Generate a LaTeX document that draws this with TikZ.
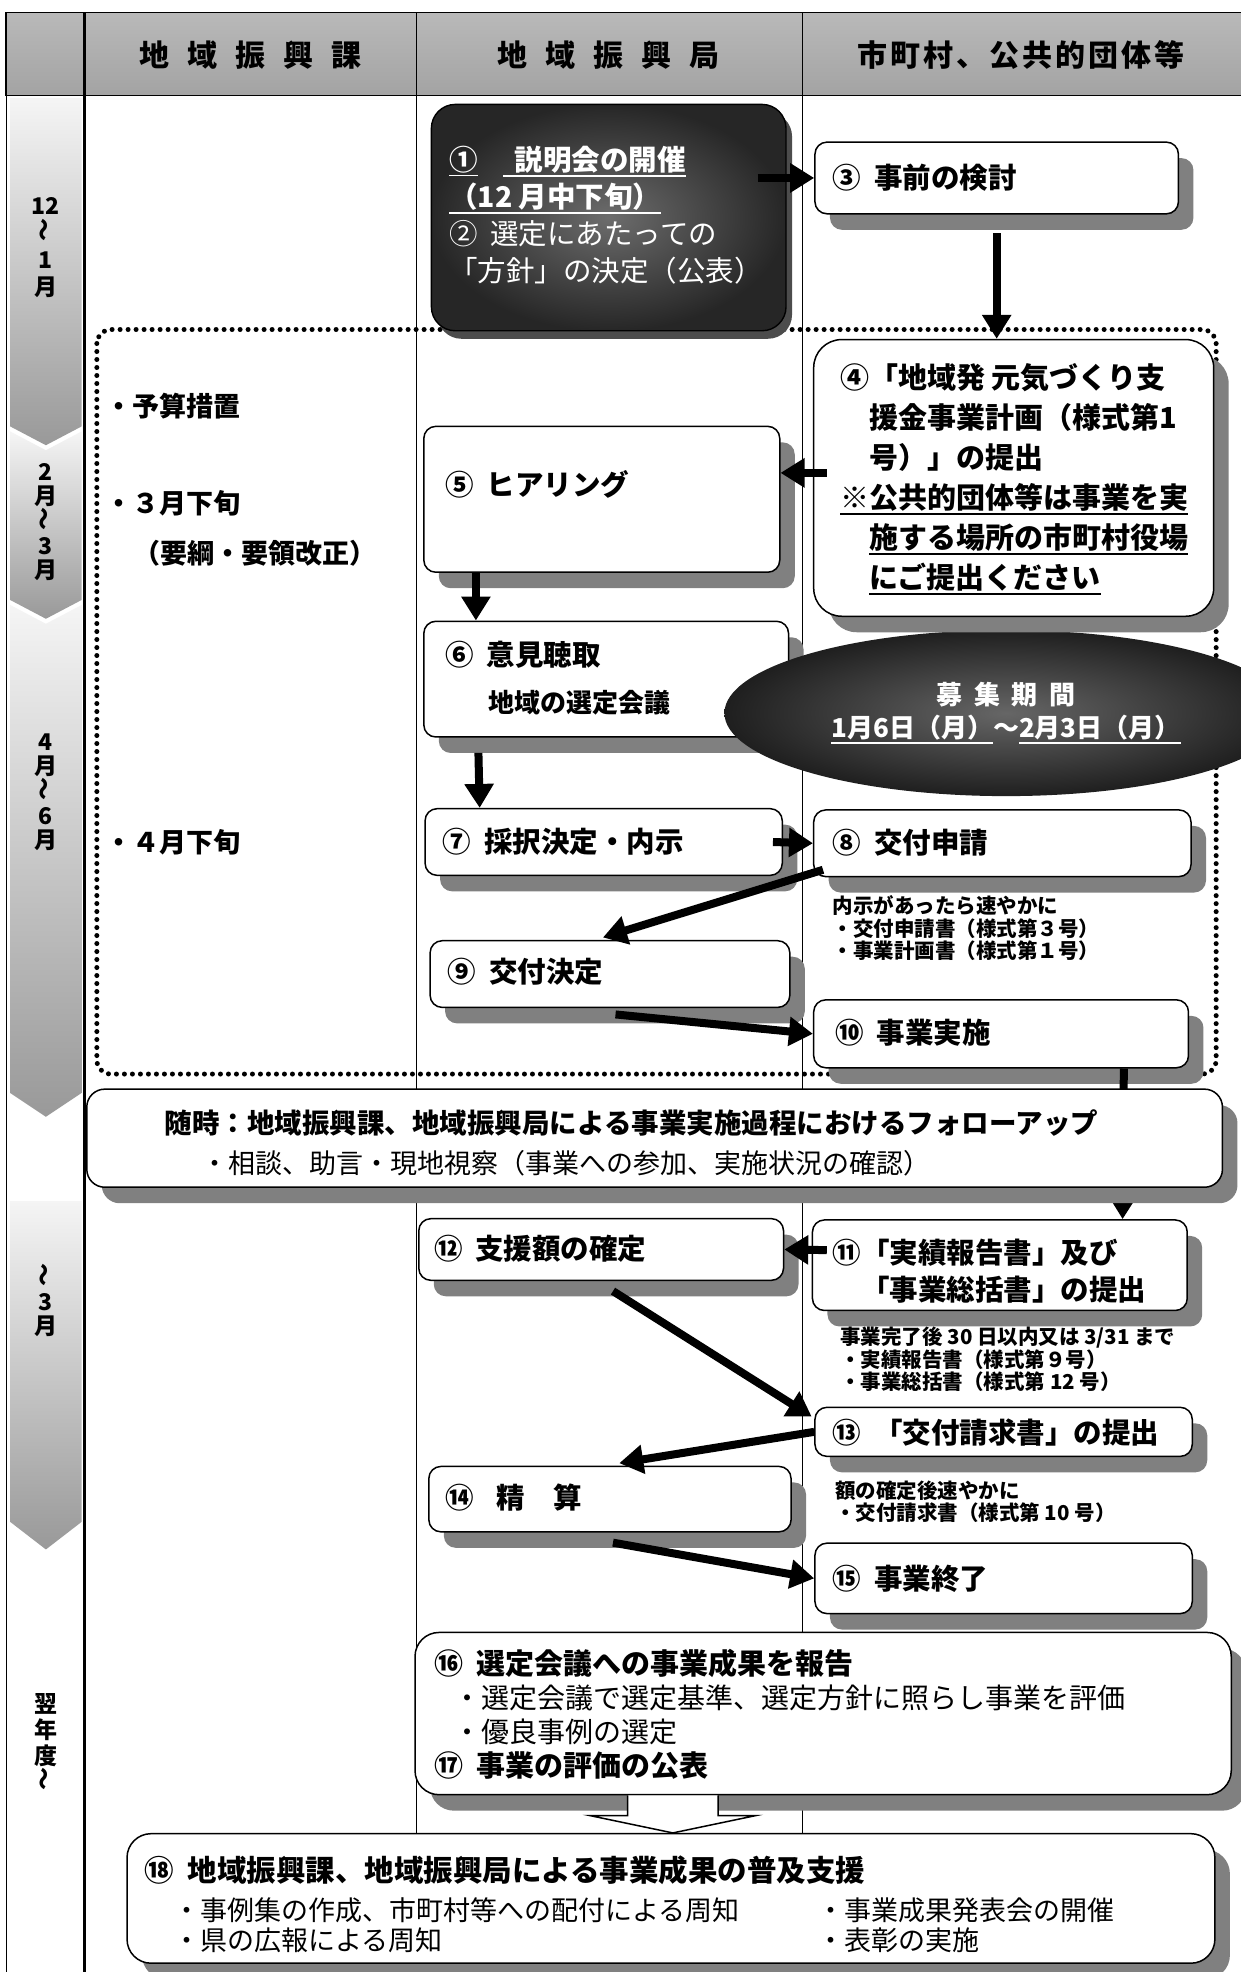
\documentclass[tikz,border=0pt]{standalone}
\usepackage{fontspec}
\usepackage{graphicx}
\setmainfont{Noto Sans CJK JP}
\usetikzlibrary{arrows.meta,positioning,shadows,calc,fit}

\newcommand{\bxfont}{\fontsize{28.5}{37}\selectfont\bfseries}
\newcommand{\fourfont}{\fontsize{29}{40}\selectfont\bfseries}
\newcommand{\subfont}{\fontsize{26}{30}\selectfont\bfseries}
\newcommand{\smfont}{\fontsize{20.5}{22.5}\selectfont\bfseries}
\newcommand{\hdfont}{\fontsize{30}{34}\selectfont\bfseries}
\newcommand{\tlfont}{\fontsize{23}{24}\selectfont\bfseries}
\newcommand{\rgfont}{\fontsize{27}{30}\selectfont}
\newcommand{\prdfont}{\fontsize{26}{30}\selectfont\bfseries}
\newcommand{\lcfont}{\fontsize{27}{30}\selectfont\bfseries}
\newcommand{\numgap}{\hspace{0.45em}}
\newcommand{\vwave}{\rotatebox{90}{〜}}
\newcommand{\undl}[1]{\leavevmode\vtop{\hbox{#1}\kern1.5pt\hrule height 1.8pt}}

\tikzset{
  colline/.style={line width=1pt},
  box/.style={draw, line width=1.5pt, fill=white, rounded corners=12pt, inner sep=0pt,
    drop shadow={shadow xshift=15pt, shadow yshift=-16pt, fill=black!50, opacity=1}},
  darkbox/.style={draw, line width=1.4pt, rounded corners=24pt, inner sep=0pt,
    inner color=gray!85!black, outer color=black!85,
    drop shadow={shadow xshift=6pt, shadow yshift=-8pt, fill=gray!60!black, opacity=1}},
  txt/.style={anchor=west, inner sep=0pt, align=left, font=\bxfont},
  note/.style={anchor=west, inner sep=0pt, align=left, font=\smfont},
  flowarrow/.style={line width=8pt, -{Triangle[length=24pt,width=28pt]}},
  period/.style={top color=gray!8, bottom color=gray!80, draw=none},
  dotframe/.style={line width=5pt, dash pattern=on 0pt off 8pt, line cap=round, rounded corners=14pt},
  bigarrow/.style={fill=white, line width=1.5pt},
}

\begin{document}
\begin{tikzpicture}[x=1.2576pt, y=-1.2576pt]
\useasboundingbox (0,0) rectangle (986,1568);
\fill[white] (0,0) rectangle (986,1568);

% header and columns
\draw[line width=1.8pt, top color=gray!55, bottom color=gray!72] (5,10) rectangle (992,76);
\draw[colline] (331,10) -- (331,1458);
\draw[colline] (638,10) -- (638,1458);
\draw[line width=1.2pt] (5,10) -- (5,1572);
\node[font=\hdfont] (h1) at (199,44) {地\hspace{0.6em}域\hspace{0.6em}振\hspace{0.6em}興\hspace{0.6em}課};
\node[font=\hdfont] (h2) at (484,44) {地\hspace{0.6em}域\hspace{0.6em}振\hspace{0.6em}興\hspace{0.6em}局};
\node[font=\hdfont] (h3) at (812,44) {市\hspace{0.1em}町\hspace{0.1em}村\hspace{0.1em}、\hspace{0.1em}公\hspace{0.1em}共\hspace{0.1em}的\hspace{0.1em}団\hspace{0.1em}体\hspace{0.1em}等};

% timeline
\shade[period] (8,78) -- (65,78) -- (65,339) -- (36.5,354) -- (8,339) -- cycle;
\shade[period] (8,343) -- (36.5,358) -- (65,343) -- (65,477) -- (36.5,492) -- (8,477) -- cycle;
\shade[period] (8,481) -- (36.5,496) -- (65,481) -- (65,869) -- (36.5,888) -- (8,869) -- cycle;
\shade[period] (8,955) -- (65,955) -- (65,1210) -- (36.5,1232) -- (8,1210) -- cycle;
\draw[line width=3pt] (67,10) -- (67,1572);
\node[font={\fontsize{23}{27}\selectfont\bfseries}, align=center, inner sep=0pt] (m1) at (36.5,197) {12\\\vwave\\1\\月};
\node[font=\tlfont, align=center, inner sep=0pt] (m2) at (36.5,415) {2\\月\\\vwave\\3\\月};
\node[font=\tlfont, align=center, inner sep=0pt] (m3) at (36.5,630) {4\\月\\\vwave\\6\\月};
\node[font=\tlfont, align=center, inner sep=0pt] (m4) at (36.5,1034) {\vwave\\3\\月};
\node[font={\fontsize{23}{26}\selectfont\bfseries}, align=center, inner sep=0pt] (m5) at (36.5,1385) {翌\\年\\度\\\vwave};

% application period frame
\draw[dotframe] (77,262) rectangle (967,854);
\node[txt, font=\lcfont] (l1) at (84,323) {・予算措置};
\node[txt, font=\lcfont] (l2) at (84,400) {・３月下旬};
\node[txt, font=\lcfont] (l3) at (106,440) {（要綱・要領改正）};
\node[txt, font=\lcfont] (l4) at (84,670) {・４月下旬};

% steps 1-3
\node[darkbox, fit={(343,83) (625,263)}] (b1) {};
\node[txt, text=white] (t1) at (357,171) {\undl{①}\hspace{0.9em}\undl{\hspace{0.4em}説明会の開催}\\\undl{（12 月中下旬）}\\{\mdseries ②\numgap 選定にあたっての}\\{\mdseries 「方針」の決定（公表）}};
\node[box, fit={(648,113) (937,170)}] (b3) {};
\node[txt] (t3) at (662,141) {③\numgap 事前の検討};
\draw[flowarrow] ($(b3.west)+(-45,0)$) -- (b3.west);

% steps 5, 6
\node[box, fit={(337,339) (620,455)}] (b5) {};
\node[txt] (t5) at (354,385) {⑤\numgap ヒアリング};
\node[box, fit={(337,494) (627,586)}] (b6) {};
\node[txt] (t6) at (354,521) {⑥\numgap 意見聴取};
\node[txt, font=\subfont] (t6s) at (388,559) {地域の選定会議};

% recruiting period
\shade[inner color=gray!80!black, outer color=black!88] (800,567) ellipse [x radius=224, y radius=66];
\node[font=\prdfont, text=white] (p1) at (800,552) {募\hspace{.45em}集\hspace{.45em}期\hspace{.45em}間};
\node[font=\prdfont, text=white] (p2) at (800,580) {\undl{1月6日（月）}〜\undl{2月3日（月）}};

% step 4
\node[box, rounded corners=28pt, fit={(647,270) (965,490)}] (b4) {};
\node[txt, font=\fourfont] (t4) at (668,381) {④「地域発 元気づくり支\\\hphantom{④}援金事業計画（様式第1\\\hphantom{④}号）」の提出\\\undl{※公共的団体等は事業を実}\\\hphantom{※}\undl{施する場所の市町村役場}\\\hphantom{※}\undl{にご提出ください}};
\draw[flowarrow] ($(b3.south)+(0,15)$) -- (b3.south |- b4.north);
\draw[flowarrow] ($(b4.west)+(11,-4)$) -- ($(b5.east)+(0,-21)$);
\draw[flowarrow] ($(b5.south west)+(42,0)$) -- ($(b6.north west)+(42,0)$);

% steps 7-10
\node[box, fit={(338,643) (622,696)}] (b7) {};
\node[txt] (t7) at (352,669) {⑦\numgap 採択決定・内示};
\node[box, fit={(647,644) (947,697)}] (b8) {};
\node[txt] (t8) at (662,670) {⑧\numgap 交付申請};
\node[note] (n8) at (662,738) {内示があったら速やかに\\・交付申請書（様式第３号）\\・事業計画書（様式第１号）};
\node[box, fit={(342,748) (628,801)}] (b9) {};
\node[txt] (t9) at (356,773) {⑨\numgap 交付決定};
\node[box, fit={(647,795) (945,849)}] (b10) {};
\node[txt] (t10) at (664,821) {⑩\numgap 事業実施};
\draw[flowarrow] ($(b6.south west)+(44,12)$) -- ($(b7.north west)+(44,0)$);
\draw[flowarrow] ($(b7.east)+(-8,0)$) -- (b8.west);
\draw[flowarrow] ($(b8.south west)+(8,-6)$) -- ($(b9.north west)+(138,-2)$);
\draw[flowarrow] ($(b9.south west)+(148,5)$) -- (b10.west);

% steps 11, 12
\node[box, fit={(333,969) (623,1018)}] (b12) {};
\node[txt] (t12) at (345,993) {⑫\numgap 支援額の確定};
\node[box, fit={(646,970) (944,1042)}] (b11) {};
\node[txt] (t11) at (662,1011) {⑪「実績報告書」及び\\\hphantom{⑪}「事業総括書」の提出};
\node[note] (n11) at (668,1081) {事業完了後 30 日以内又は 3/31 まで\\・実績報告書（様式第９号）\\・事業総括書（様式第 12 号）};
\draw[flowarrow] ($(b10.south east)+(-52,0)$) -- ($(b11.north east)+(-52,0)$);
\draw[flowarrow] ($(b11.west)+(12,-12)$) -- (b12.east);

% follow-up
\node[box, rounded corners=18pt, fit={(69,866) (972,944)}] (bfo) {};
\node[txt, font={\fontsize{27.5}{30}\selectfont\bfseries}] (tfo) at (131,893) {随時：地域振興課、地域振興局による事業実施過程におけるフォローアップ};
\node[txt, font=\rgfont] (tfo2) at (160,925) {・相談、助言・現地視察（事業への参加、実施状況の確認）};

% steps 13-15
\node[box, fit={(648,1119) (948,1158)}] (b13) {};
\node[txt] (t13) at (662,1139) {⑬\numgap 「交付請求書」の提出};
\node[note] (n13) at (664,1194) {額の確定後速やかに\\・交付請求書（様式第 10 号）};
\node[box, fit={(341,1166) (629,1218)}] (b14) {};
\node[txt] (t14) at (354,1191) {⑭\hspace{0.8em}精　算};
\node[box, fit={(648,1227) (948,1283)}] (b15) {};
\node[txt] (t15) at (662,1255) {⑮\numgap 事業終了};
\draw[flowarrow] ($(b12.south west)+(155,8)$) -- ($(b13.north west)+(-2,8)$);
\draw[flowarrow] (b13.west) -- ($(b14.north west)+(152,-2)$);
\draw[flowarrow] ($(b14.south west)+(147,8)$) -- (b15.west);

% steps 16-18
\node[box, rounded corners=24pt, fit={(330,1298) (979,1427)}] (b16) {};
\node[txt, font={\fontsize{29}{34}\selectfont\bfseries}] (t16) at (345,1363) {⑯\numgap 選定会議への事業成果を報告\\{\mdseries\fontsize{28}{34}\selectfont\hspace{0.7em}・選定会議で選定基準、選定方針に照らし事業を評価}\\{\mdseries\fontsize{28}{34}\selectfont\hspace{0.7em}・優良事例の選定}\\⑰\numgap 事業の評価の公表};
\node[box, rounded corners=24pt, fit={(101,1458) (966,1561)}] (b18) {};
\node[txt, font={\fontsize{29.5}{34}\selectfont\bfseries}] (t18) at (115,1487) {⑱\numgap 地域振興課、地域振興局による事業成果の普及支援};
\node[txt, font=\rgfont] (t18a) at (138,1531) {・事例集の作成、市町村等への配付による周知\\・県の広報による周知};
\node[txt, font=\rgfont] (t18b) at (650,1531) {・事業成果発表会の開催\\・表彰の実施};
\coordinate (ba) at (535,0);
\coordinate (bt) at (ba |- b16.south);
\filldraw[bigarrow] ($(bt)+(-36,0)$) -- ++(0,16) -- ++(-30,0) -- (ba |- b18.north) -- ($(bt)+(66,16)$) -- ++(-30,0) -- ++(0,-16);
\end{tikzpicture}
\end{document}
